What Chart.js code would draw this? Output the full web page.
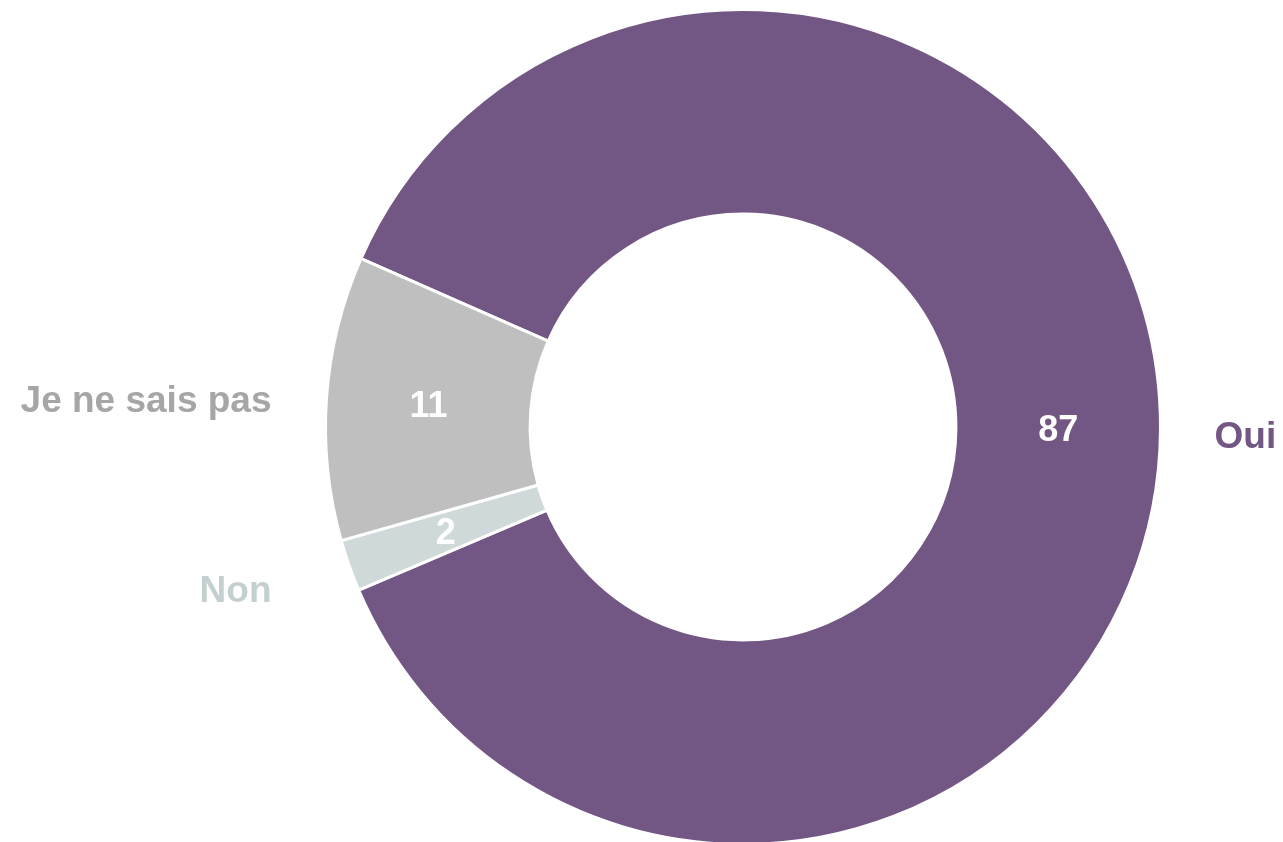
<!DOCTYPE html>
<html>
<head>
<meta charset="utf-8">
<script src="https://cdn.jsdelivr.net/npm/chart.js@4"></script>
<style>
  html, body { margin: 0; padding: 0; background: #fff; overflow: hidden; }
  #wrap { position: absolute; left: 0; top: 0; width: 1283px; height: 860px; }
</style>
</head>
<body>
<div id="wrap"><canvas id="chart"></canvas></div>
<script>
// answers, in clockwise order from the top-left
const labels = ['Oui', 'Non', 'Je ne sais pas'];
const values = [87, 2, 11];
const colors = ['#725784', '#d0d9d9', '#bfbfbf'];
const labelColors = ['#725784', '#c3d0cf', '#a6a6a6'];

const FONT = 'Liberation Sans, Arial, sans-serif';

// draws the value inside each slice and the category name outside
const sliceLabels = {
  id: 'sliceLabels',
  afterDatasetsDraw(chart) {
    const ctx = chart.ctx;
    const meta = chart.getDatasetMeta(0);
    ctx.save();
    meta.data.forEach((arc, i) => {
      const p = arc.tooltipPosition();
      ctx.font = `bold 36px ${FONT}`;
      ctx.fillStyle = '#ffffff';
      ctx.textAlign = 'center';
      ctx.textBaseline = 'middle';
      ctx.fillText(String(values[i]), p.x, p.y + 2);

      const mid = (arc.startAngle + arc.endAngle) / 2;
      const r = arc.outerRadius + 54;
      const right = Math.cos(mid) >= 0;
      const x = arc.x + (right ? r : -r);
      const y = arc.y + Math.sin(mid) * r;
      ctx.font = `bold 37px ${FONT}`;
      ctx.fillStyle = labelColors[i];
      ctx.textAlign = right ? 'left' : 'right';
      ctx.fillText(labels[i], x, y + 8);
    });
    ctx.restore();
  }
};

new Chart(document.getElementById('chart'), {
  type: 'doughnut',
  data: {
    labels,
    datasets: [{
      data: values,
      backgroundColor: colors,
      borderColor: '#ffffff',
      borderWidth: 3
    }]
  },
  options: {
    responsive: true,
    maintainAspectRatio: false,
    animation: false,
    cutout: '51%',
    rotation: -66.2,
    layout: { padding: { top: 8, bottom: 14, left: 324, right: 121 } },
    plugins: { legend: { display: false }, tooltip: { enabled: false } }
  },
  plugins: [sliceLabels]
});
</script>
</body>
</html>
